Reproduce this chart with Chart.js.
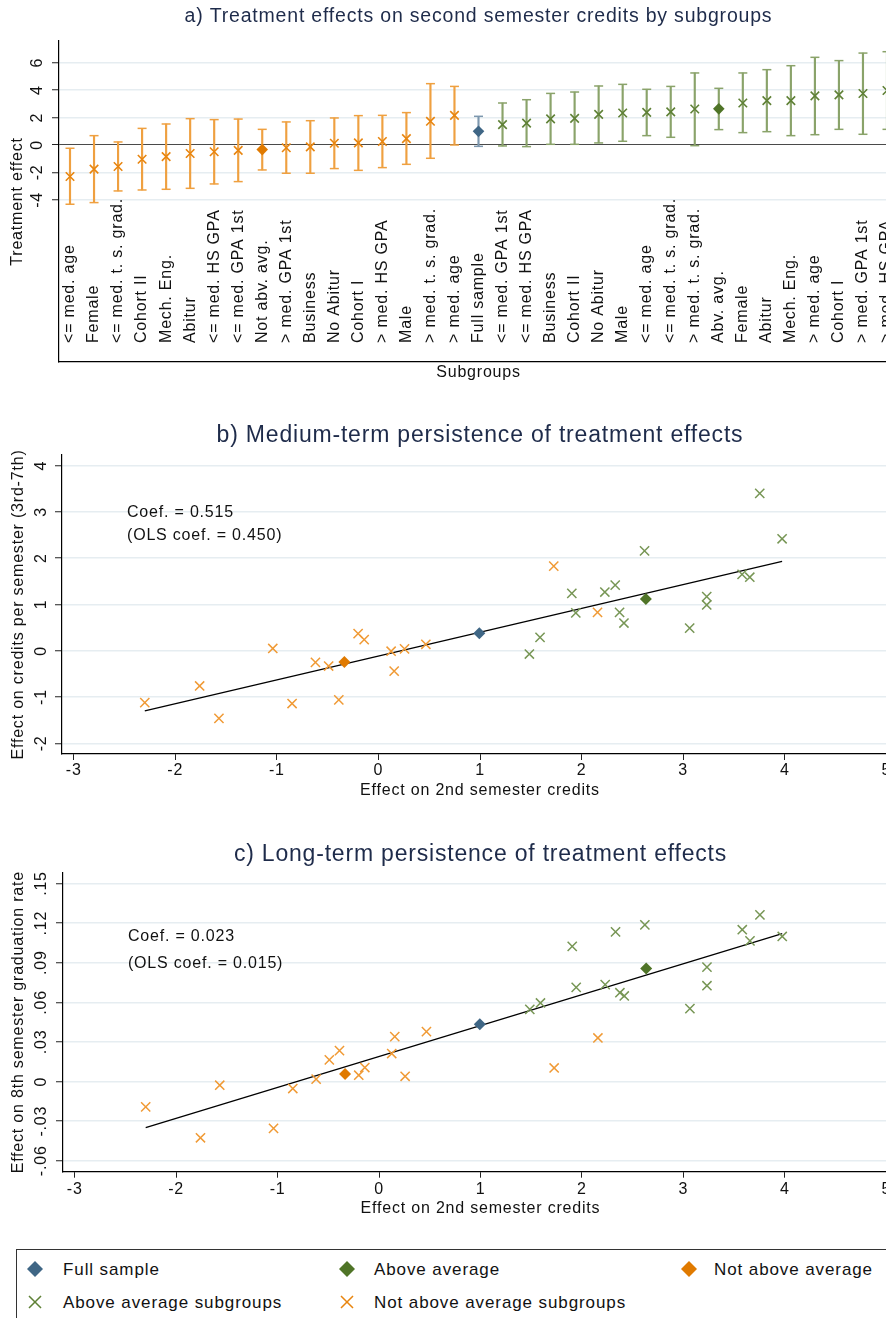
<!DOCTYPE html>
<html>
<head>
<meta charset="utf-8">
<script src="https://cdn.jsdelivr.net/npm/chart.js@4.4.1/dist/chart.umd.min.js"></script>
<style>
  html, body { margin: 0; padding: 0; background: #fff; overflow: hidden; }
  body { position: relative; width: 886px; height: 1318px; font-family: "Liberation Sans", Arial, sans-serif; }
  canvas.panel { position: absolute; left: 0; }
  #chartA { top: 0; }
  #chartB { top: 400px; }
  #chartC { top: 820px; }
  #legend { position: absolute; left: 16px; top: 1249px; width: 900px; height: 80px; border: 1px solid #333; box-sizing: border-box; }
  #legend canvas { position: absolute; }
  #legend span { position: absolute; font-size: 17px; letter-spacing: 0.9px; line-height: 1; color: #111; transform: translateY(-50%); white-space: nowrap; }
</style>
</head>
<body>
<canvas id="chartA" class="panel" width="918" height="390"></canvas>
<canvas id="chartB" class="panel" width="918" height="410"></canvas>
<canvas id="chartC" class="panel" width="918" height="410"></canvas>
<div id="legend"></div>
<script>
// subgroups, sorted by effect on 2nd semester credits
const subgroups = [
  "<= med. age", "Female", "<= med. t. s. grad.", "Cohort II", "Mech. Eng.", "Abitur",
  "<= med. HS GPA", "<= med. GPA 1st", "Not abv. avg.", "> med. GPA 1st", "Business",
  "No Abitur", "Cohort I", "> med. HS GPA", "Male", "> med. t. s. grad.", "> med. age",
  "Full sample", "<= med. GPA 1st", "<= med. HS GPA", "Business", "Cohort II", "No Abitur",
  "Male", "<= med. age", "<= med. t. s. grad.", "> med. t. s. grad.", "Abv. avg.", "Female",
  "Abitur", "Mech. Eng.", "> med. age", "Cohort I", "> med. GPA 1st", "> med. HS GPA"
];
const groups = [
  "notSub", "notSub", "notSub", "notSub", "notSub", "notSub", "notSub", "notSub", "notAvg",
  "notSub", "notSub", "notSub", "notSub", "notSub", "notSub", "notSub", "notSub", "full",
  "abvSub", "abvSub", "abvSub", "abvSub", "abvSub", "abvSub", "abvSub", "abvSub", "abvSub",
  "abvAvg", "abvSub", "abvSub", "abvSub", "abvSub", "abvSub", "abvSub", "abvSub"
];
const estimate = [
  -2.30, -1.76, -1.57, -1.04, -0.85, -0.62, -0.49, -0.39, -0.335, -0.20, -0.14, 0.125,
  0.155, 0.257, 0.467, 1.726, 2.157, 0.993, 1.486, 1.591, 1.904, 1.943, 2.229, 2.331,
  2.374, 2.417, 2.620, 2.633, 3.064, 3.232, 3.232, 3.58, 3.656, 3.754, 3.974
];
const ciLower = [
  -4.32, -4.20, -3.35, -3.28, -3.23, -3.16, -2.84, -2.67, -1.82, -2.06, -2.06, -1.72,
  -1.85, -1.65, -1.41, -0.97, 0.00, -0.10, -0.07, -0.12, 0.05, 0.05, 0.15, 0.27,
  0.68, 0.56, -0.05, 1.12, 0.90, 0.97, 0.68, 0.75, 1.14, 0.78, 1.14
];
const ciUpper = [
  -0.24, 0.68, 0.22, 1.21, 1.53, 1.92, 1.85, 1.89, 1.14, 1.68, 1.77, 1.97,
  2.14, 2.16, 2.36, 4.47, 4.27, 2.09, 3.06, 3.30, 3.76, 3.86, 4.30, 4.42,
  4.06, 4.27, 5.25, 4.13, 5.25, 5.49, 5.78, 6.39, 6.15, 6.70, 6.80
];
// medium-term: effect on credits per semester (3rd-7th)
const creditsEffect = [
  -1.12, -0.76, -1.46, 0.05, -1.14, -0.25, -0.33, -1.06, -0.24, 0.37, 0.24, -0.01,
  -0.44, 0.04, 0.14, 1.83, 0.83, 0.38, -0.07, 0.29, 1.24, 0.82, 1.27, 1.42,
  0.83, 0.60, 2.16, 1.12, 0.49, 1.17, 0.99, 1.65, 1.59, 3.40, 2.42
];
// long-term: effect on 8th semester graduation rate
const gradEffect = [
  -0.0192, -0.0426, -0.0028, -0.0355, -0.0053, 0.0018, 0.0164, 0.0234, 0.0058, 0.0048,
  0.0106, 0.0212, 0.034, 0.004, 0.0378, 0.0103, 0.033, 0.0434, 0.0547, 0.0595,
  0.1024, 0.0713, 0.0734, 0.1134, 0.0673, 0.0648, 0.1187, 0.0857, 0.0552, 0.0867,
  0.0726, 0.115, 0.1066, 0.1263, 0.1099
];
const fitX = [-2.30, 3.974];
const fitCredits = [-1.30, 1.93];
const fitGrad = [-0.035, 0.112];

const ticksA = [-4, -2, 0, 2, 4, 6];
const ticksX = [-3, -2, -1, 0, 1, 2, 3, 4, 5];
const ticksB = [-2, -1, 0, 1, 2, 3, 4];
const ticksC = [-0.06, -0.03, 0, 0.03, 0.06, 0.09, 0.12, 0.15];

const legendNames = {
  full: "Full sample", abvAvg: "Above average", notAvg: "Not above average",
  abvSub: "Above average subgroups", notSub: "Not above average subgroups"
};
const order = ["full", "abvAvg", "notAvg", "abvSub", "notSub"];

const style = {
  full:   { color: "#3f6685", ci: "#7d97ae", light: "#3f6685", shape: "rectRot" },
  abvAvg: { color: "#4f7427", ci: "#8aa36a", light: "#4f7427", shape: "rectRot" },
  notAvg: { color: "#e07a00", ci: "#efa040", light: "#e07a00", shape: "rectRot" },
  abvSub: { color: "#5f8136", ci: "#8aa36a", light: "#779655", shape: "crossRot" },
  notSub: { color: "#e8850f", ci: "#efa040", light: "#f09a35", shape: "crossRot" }
};

const FONT = "'Liberation Sans', Arial, Helvetica, sans-serif";
Chart.defaults.font.family = FONT;
Chart.defaults.color = "#111";

// wider text like the original export
const spacing = {
  id: "spacing",
  beforeUpdate(chart) { chart.ctx.letterSpacing = "0.8px"; },
  beforeDraw(chart) { chart.ctx.letterSpacing = "0.8px"; }
};

// subgroup names written inside the plot, above the x axis
const insideLabels = {
  id: "insideLabels",
  afterDatasetsDraw(chart, args, opts) {
    if (!opts.gap) return;
    const { ctx, chartArea, scales: { x } } = chart;
    ctx.save();
    ctx.font = "16px " + FONT;
    ctx.fillStyle = "#111";
    ctx.textAlign = "left";
    ctx.textBaseline = "middle";
    subgroups.forEach((name, i) => {
      ctx.save();
      ctx.translate(x.getPixelForValue(i + 1), chartArea.bottom - opts.gap);
      ctx.rotate(-Math.PI / 2);
      ctx.fillText(name, 0, 0);
      ctx.restore();
    });
    ctx.restore();
  }
};

const noteText = {
  id: "noteText",
  afterDatasetsDraw(chart, args, opts) {
    if (!opts.lines) return;
    const { ctx, scales: { x, y } } = chart;
    ctx.save();
    ctx.font = "16px " + FONT;
    ctx.fillStyle = "#111";
    ctx.textAlign = "left";
    ctx.textBaseline = "middle";
    opts.lines.forEach(l => ctx.fillText(l.text, x.getPixelForValue(l.x), y.getPixelForValue(l.y)));
    ctx.restore();
  }
};

function setTicks(values) {
  return scale => { scale.ticks = values.map(v => ({ value: v })); };
}
function stataNum(v) {
  if (Math.abs(v) < 1e-9) return "0";
  return (v < 0 ? "-" : "") + Math.abs(v).toFixed(2).replace(/^0/, "");
}

// ---------- a) treatment effects by subgroup ----------
const xPos = subgroups.map((_, i) => i + 1);
const ciColors = groups.map(g => style[g].ci);

const dsA = [
  {
    type: "bar",
    data: xPos.map((x, i) => ({ x, y: [ciLower[i], ciUpper[i]] })),
    backgroundColor: ciColors,
    barThickness: 1.5,
    order: 5
  },
  {
    type: "scatter",
    data: xPos.map((x, i) => ({ x, y: ciLower[i] })),
    pointStyle: "line", pointRadius: 4.5, pointBorderWidth: 1.5,
    pointBorderColor: ciColors, pointBackgroundColor: ciColors,
    order: 4
  },
  {
    type: "scatter",
    data: xPos.map((x, i) => ({ x, y: ciUpper[i] })),
    pointStyle: "line", pointRadius: 4.5, pointBorderWidth: 1.5,
    pointBorderColor: ciColors, pointBackgroundColor: ciColors,
    order: 4
  }
].concat(order.map(g => {
  const s = style[g];
  const diamond = s.shape === "rectRot";
  return {
    type: "scatter",
    label: legendNames[g],
    data: xPos.filter((x, i) => groups[i] === g).map(x => ({ x, y: estimate[x - 1] })),
    pointStyle: s.shape,
    pointRadius: diamond ? 5.8 : 6,
    pointBorderWidth: diamond ? 0 : 1.6,
    pointBackgroundColor: s.color,
    pointBorderColor: s.color,
    backgroundColor: s.color,
    borderColor: s.color,
    order: 1
  };
}));

new Chart(document.getElementById("chartA"), {
  type: "scatter",
  data: { datasets: dsA },
  options: {
    responsive: false, animation: false, devicePixelRatio: 1,
    layout: { padding: { left: 0, right: 20, top: 0, bottom: 0 } },
    plugins: {
      legend: { display: false },
      tooltip: { enabled: false },
      title: {
        display: true, fullSize: false,
        text: "a) Treatment effects on second semester credits by subgroups",
        color: "#1e2b4a", font: { size: 19.5, weight: "normal", lineHeight: 1 },
        padding: { top: 7.25, bottom: 14.25 }
      },
      insideLabels: { gap: 19 }
    },
    scales: {
      x: {
        type: "linear", min: 0.542, max: 35.458, offset: false,
        ticks: { display: false },
        grid: { display: false, offset: false },
        border: { display: true, color: "#000", width: 1.2 },
        title: { display: true, text: "Subgroups", color: "#111", font: { size: 16, lineHeight: 1 }, padding: { top: 0, bottom: 9 } },
        afterFit: s => { s.height = 28; }
      },
      y: {
        type: "linear", min: -15.82, max: 7.58,
        afterBuildTicks: setTicks(ticksA),
        ticks: { minRotation: 90, maxRotation: 90, crossAlign: "center", padding: 6.5, font: { size: 16, lineHeight: 1 }, callback: v => String(v) },
        grid: {
          color: c => (c.tick && c.tick.value === 0 ? "#4a4a4a" : "#e6edf1"),
          lineWidth: c => (c.tick && c.tick.value === 0 ? 1 : 1.5),
          tickColor: "#222", tickLength: 7, tickWidth: 1
        },
        border: { color: "#000", width: 1.2 },
        title: { display: true, text: "Treatment effect", color: "#111", font: { size: 16, lineHeight: 1 }, padding: { top: 10 } },
        afterFit: s => { s.width = 59; }
      }
    }
  },
  plugins: [spacing, insideLabels]
});

// ---------- b) and c) persistence scatter plots ----------
function scatterSets(yVals, fitY) {
  const sets = order.map(g => {
    const s = style[g];
    const diamond = s.shape === "rectRot";
    const pts = [];
    estimate.forEach((x, i) => { if (groups[i] === g) pts.push({ x, y: yVals[i] }); });
    return {
      label: legendNames[g],
      data: pts,
      pointStyle: s.shape,
      pointRadius: diamond ? 6 : 6.5,
      pointBorderWidth: diamond ? 0 : 1.5,
      pointBackgroundColor: s.light,
      pointBorderColor: s.light,
      backgroundColor: s.light,
      borderColor: s.light,
      order: 1
    };
  });
  sets.push({
    label: "fit",
    data: fitX.map((x, k) => ({ x, y: fitY[k] })),
    showLine: true, borderColor: "#000", borderWidth: 1.3,
    pointRadius: 0, order: 10
  });
  return sets;
}

function persistenceOptions(cfg) {
  return {
    responsive: false, animation: false, devicePixelRatio: 1,
    layout: { padding: { left: 0, right: 20, top: 0, bottom: 0 } },
    plugins: {
      legend: { display: false, labels: { usePointStyle: true } },
      tooltip: { enabled: false },
      title: {
        display: true, fullSize: false, text: cfg.title,
        color: "#1e2b4a", font: { size: 23, weight: "normal", lineHeight: 1 },
        padding: cfg.titlePad
      },
      noteText: { lines: cfg.notes }
    },
    scales: {
      x: {
        type: "linear", min: -3.115, max: 5.115,
        afterBuildTicks: setTicks(ticksX),
        ticks: { autoSkip: false, maxRotation: 0, padding: cfg.xTickPad, font: { size: 16, lineHeight: 1 }, callback: v => String(v) },
        grid: { drawOnChartArea: false, tickLength: 6, tickColor: "#222", tickWidth: 1 },
        border: { color: "#000", width: 1.2 },
        title: { display: true, text: "Effect on 2nd semester credits", color: "#111", font: { size: 16, lineHeight: 1 }, padding: { top: 0, bottom: cfg.xTitlePad } },
        afterFit: s => { s.height = cfg.xHeight; }
      },
      y: {
        type: "linear", min: cfg.yMin, max: cfg.yMax,
        afterBuildTicks: setTicks(cfg.yTicks),
        ticks: { minRotation: 90, maxRotation: 90, crossAlign: "center", padding: cfg.yTickPad, font: { size: 16, lineHeight: 1 }, callback: cfg.yFormat },
        grid: { color: "#e6edf1", lineWidth: 1.5, tickColor: "#222", tickLength: 7, tickWidth: 1 },
        border: { color: "#000", width: 1.2 },
        title: { display: true, text: cfg.yTitle, color: "#111", font: { size: 16, lineHeight: 1 }, padding: { top: 11 } },
        afterFit: s => { s.width = cfg.yWidth; }
      }
    }
  };
}

new Chart(document.getElementById("chartB"), {
  type: "scatter",
  data: { datasets: scatterSets(creditsEffect, fitCredits) },
  options: persistenceOptions({
    title: "b) Medium-term persistence of treatment effects",
    titlePad: { top: 24.5, bottom: 7.5 },
    notes: [{ x: -2.475, y: 2.99, text: "Coef. = 0.515" }, { x: -2.475, y: 2.49, text: "(OLS coef. = 0.450)" }],
    xTickPad: 3, xTitlePad: 11.3, xHeight: 56,
    yMin: -2.23, yMax: 4.23, yTicks: ticksB, yTickPad: 5.5, yWidth: 62,
    yFormat: v => String(v),
    yTitle: "Effect on credits per semester (3rd-7th)"
  }),
  plugins: [spacing, noteText]
});

const chartC = new Chart(document.getElementById("chartC"), {
  type: "scatter",
  data: { datasets: scatterSets(gradEffect, fitGrad) },
  options: persistenceOptions({
    title: "c) Long-term persistence of treatment effects",
    titlePad: { top: 23.5, bottom: 6.2 },
    notes: [{ x: -2.475, y: 0.1096, text: "Coef. = 0.023" }, { x: -2.475, y: 0.0895, text: "(OLS coef. = 0.015)" }],
    xTickPad: 3.6, xTitlePad: 13.7, xHeight: 58.3,
    yMin: -0.0683, yMax: 0.1582, yTicks: ticksC, yTickPad: -1.4, yWidth: 63,
    yFormat: stataNum,
    yTitle: "Effect on 8th semester graduation rate"
  }),
  plugins: [spacing, noteText]
});

// ---------- legend (built from chart c's own legend items) ----------
const legendBox = document.getElementById("legend");
const items = chartC.options.plugins.legend.labels.generateLabels(chartC).filter(it => it.text !== "fit");
const colMarker = [35, 347, 689];
const colText = [63, 374, 714];
const rowY = [1269, 1301.7];
items.forEach((it, k) => {
  const row = Math.floor(k / 3), col = k % 3;
  const cv = document.createElement("canvas");
  cv.width = 20; cv.height = 20;
  cv.style.left = (colMarker[col] - 10 - 17) + "px";
  cv.style.top = (rowY[row] - 10 - 1250) + "px";
  legendBox.appendChild(cv);
  const g = order[k];
  const ctx = cv.getContext("2d");
  ctx.fillStyle = style[g].color;
  ctx.strokeStyle = style[g].color;
  ctx.lineWidth = 1.5;
  const diamond = it.pointStyle === "rectRot";
  Chart.helpers.drawPoint(ctx, { pointStyle: it.pointStyle, radius: diamond ? 8 : 8.5, borderWidth: diamond ? 0 : 1.5, rotation: 0 }, 10, 10);
  const sp = document.createElement("span");
  sp.textContent = it.text;
  sp.style.left = (colText[col] - 17) + "px";
  sp.style.top = (rowY[row] - 1250) + "px";
  legendBox.appendChild(sp);
});
</script>
</body>
</html>
